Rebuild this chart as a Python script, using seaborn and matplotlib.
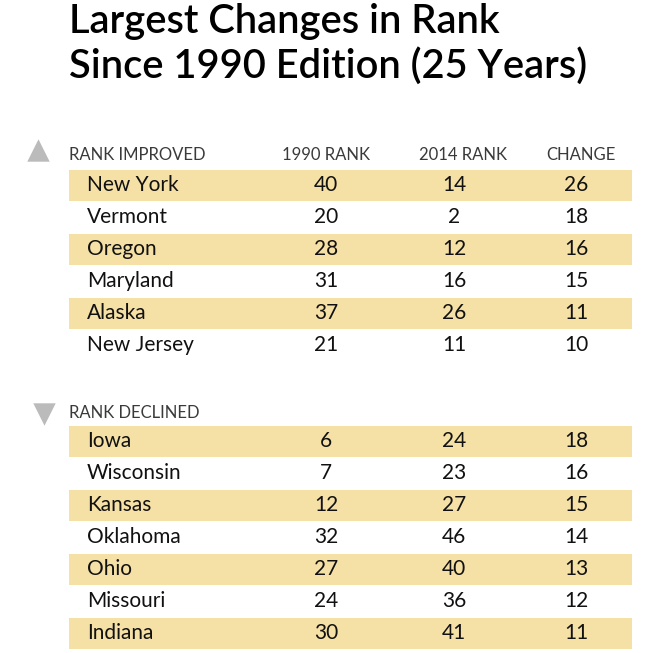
import matplotlib.pyplot as plt
import seaborn as sns

# Data
improved_states = ["New York", "Vermont", "Oregon", "Maryland", "Alaska", "New Jersey"]
improved_1990 = [40, 20, 28, 31, 37, 21]
improved_2014 = [14, 2, 12, 16, 26, 11]
improved_change = [26, 18, 16, 15, 11, 10]

declined_states = ["Iowa", "Wisconsin", "Kansas", "Oklahoma", "Ohio", "Missouri", "Indiana"]
declined_1990 = [6, 7, 12, 32, 27, 24, 30]
declined_2014 = [24, 23, 27, 46, 40, 36, 41]
declined_change = [18, 16, 15, 14, 13, 12, 11]

columns = ["1990 RANK", "2014 RANK", "CHANGE"]

BAND = "#F5E0A5"
GREY = "#BBBBBB"
FONT = "Lato"

sns.set_style("white")
plt.rcParams["font.family"] = [FONT, "DejaVu Sans"]

fig = plt.figure(figsize=(6.5, 6.53), dpi=100)
ax = fig.add_axes([0, 0, 1, 1])
ax.set_xlim(0, 650)
ax.set_ylim(653, 0)
ax.axis("off")

ax.text(69, 21, "Largest Changes in Rank", fontsize=28.7, fontweight="semibold",
        va="center", ha="left", color="black")
ax.text(69, 66, "Since 1990 Edition (25 Years)", fontsize=28.7, fontweight="semibold",
        va="center", ha="left", color="black")

col_x = [326, 454, 576]
header_x = [326, 463, 581]
ROW_H = 32


def draw_section(y0, header_y, label, states, v1990, v2014, change, marker, tri_x, tri_y):
    ax.scatter([tri_x], [tri_y], marker=marker, s=260, color=GREY, linewidths=0)
    ax.text(69, header_y, label, fontsize=12, fontweight="normal", color="#3a3a3a",
            va="center", ha="left")
    if label == "RANK IMPROVED":
        for hx, h in zip(header_x, columns):
            ax.text(hx, header_y, h, fontsize=12, fontweight="normal", color="#3a3a3a",
                    va="center", ha="center")
    ys = [y0 + i * ROW_H for i in range(len(states))]
    for i, y in enumerate(ys):
        if i % 2 == 0:
            ax.barh(y, 563, left=69, height=31, color=BAND, linewidth=0)
    for y, s, a, b, c in zip(ys, states, v1990, v2014, change):
        ax.text(87, y, s, fontsize=15, va="center", ha="left", color="#111111")
        for cx, v in zip(col_x, (a, b, c)):
            ax.text(cx, y, str(v), fontsize=15, va="center", ha="center", color="#111111")


draw_section(185, 155, "RANK IMPROVED", improved_states, improved_1990, improved_2014,
             improved_change, "^", 38, 150)
draw_section(441, 413, "RANK DECLINED", declined_states, declined_1990, declined_2014,
             declined_change, "v", 44, 414)

fig.savefig("out.png", dpi=100)
